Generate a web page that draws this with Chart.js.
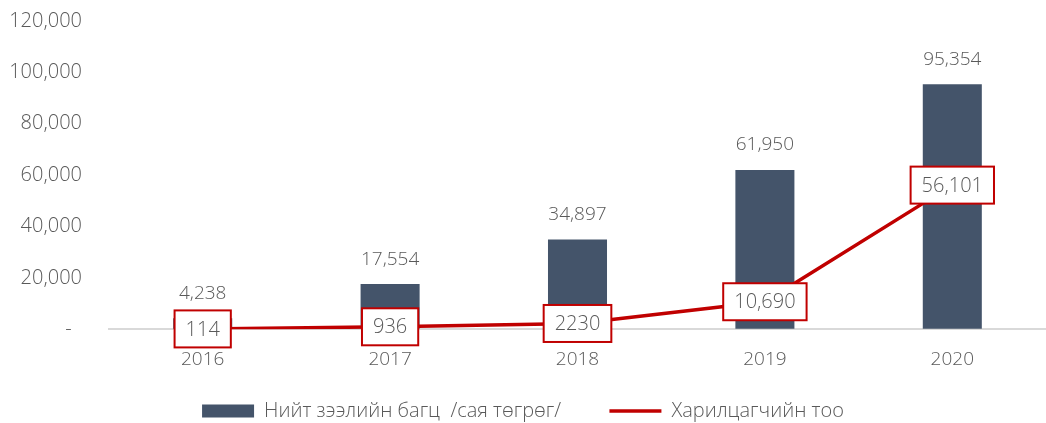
<!DOCTYPE html>
<html>
<head>
<meta charset="utf-8">
<script src="https://cdn.jsdelivr.net/npm/chart.js@4/dist/chart.umd.min.js"></script>
<style>
  html, body { margin: 0; padding: 0; background: #fff; }
  #wrap { width: 1046px; height: 423px; position: relative; }
</style>
</head>
<body>
<div id="wrap"><canvas id="c"></canvas></div>
<script>
const YEARS = ['2016', '2017', '2018', '2019', '2020'];
const LOAN_TOTAL = [4238, 17554, 34897, 61950, 95354];
const CUSTOMERS = [114, 936, 2230, 10690, 56101];
const CUSTOMER_LABELS = ['114', '936', '2230', '10,690', '56,101'];
const Y_TICKS = [0, 20000, 40000, 60000, 80000, 100000, 120000];

const FONT = '"Open Sans", Roboto, sans-serif';
const TEXT = '#595959';
const BAR = '#44546a';
const RED = '#c00000';

const fmt = v => v.toLocaleString('en-US');

// value labels: above bars, boxed on the line
const labelPlugin = {
  id: 'labels',
  afterDatasetsDraw(chart) {
    const ctx = chart.ctx;
    ctx.save();
    ctx.textAlign = 'center';
    ctx.textBaseline = 'middle';

    ctx.font = '300 19px ' + FONT;
    ctx.fillStyle = TEXT;
    chart.getDatasetMeta(0).data.forEach((bar, i) => {
      ctx.fillText(fmt(LOAN_TOTAL[i]), bar.x, bar.y - 25);
    });

    ctx.font = '300 20px ' + FONT;
    chart.getDatasetMeta(1).data.forEach((pt, i) => {
      const txt = CUSTOMER_LABELS[i];
      const w = ctx.measureText(txt).width + 22;
      const h = 37;
      ctx.fillStyle = '#fff';
      ctx.fillRect(pt.x - w / 2, pt.y - h / 2, w, h);
      ctx.strokeStyle = RED;
      ctx.lineWidth = 2;
      ctx.strokeRect(pt.x - w / 2, pt.y - h / 2, w, h);
      ctx.fillStyle = TEXT;
      ctx.fillText(txt, pt.x, pt.y + 1);
    });
    ctx.restore();
  }
};

new Chart(document.getElementById('c'), {
  data: {
    labels: YEARS,
    datasets: [
      {
        type: 'bar',
        label: 'Нийт зээлийн багц  /сая төгрөг/',
        data: LOAN_TOTAL,
        backgroundColor: BAR,
        barPercentage: 0.315,
        categoryPercentage: 1,
        order: 2,
      },
      {
        type: 'line',
        label: 'Харилцагчийн тоо',
        data: CUSTOMERS,
        borderColor: RED,
        backgroundColor: RED,
        borderWidth: 3.5,
        pointRadius: 0,
        tension: 0,
        order: 1,
      },
    ],
  },
  options: {
    responsive: true,
    maintainAspectRatio: false,
    animation: false,
    layout: { padding: { left: 0, right: 0, top: 21, bottom: -8 } },
    plugins: {
      tooltip: { enabled: false },
      legend: {
        position: 'bottom',
        labels: {
          color: TEXT,
          font: { family: FONT, size: 20, weight: 300 },
          usePointStyle: true,
          pointStyleWidth: 52,
          boxHeight: 13,
          padding: 12,
          generateLabels(chart) {
            // extra trailing spaces widen the gap between the two entries
            return chart.data.datasets.map((ds, i) => ({
              text: ds.type === 'bar' ? ds.label + '       ' : ds.label,
              fillStyle: ds.type === 'bar' ? BAR : RED,
              strokeStyle: ds.type === 'bar' ? BAR : RED,
              lineWidth: ds.type === 'bar' ? 0 : 3.5,
              pointStyle: ds.type === 'bar' ? 'rect' : 'line',
              fontColor: TEXT,
              datasetIndex: i,
              hidden: false,
            }));
          },
        },
      },
    },
    scales: {
      x: {
        grid: { display: false },
        border: { display: true, color: '#d9d9d9', width: 2 },
        afterFit(scale) { scale.height += 7; },
        ticks: { color: TEXT, font: { family: FONT, size: 19, weight: 300 }, padding: 11 },
      },
      y: {
        min: 0,
        max: 120000,
        // invisible tick marks make the gap between labels and plot
        grid: { display: true, drawOnChartArea: false, color: 'transparent', tickLength: 27 },
        border: { display: false },
        afterBuildTicks(scale) { scale.ticks = Y_TICKS.map(v => ({ value: v })); },
        afterFit(scale) { scale.width = 109; },
        ticks: {
          color: TEXT,
          font: { family: FONT, size: 20, weight: 300 },
          padding: 0,
          callback: v => (v === 0 ? '-  ' : fmt(v)),
        },
      },
    },
  },
  plugins: [labelPlugin],
});
</script>
</body>
</html>
